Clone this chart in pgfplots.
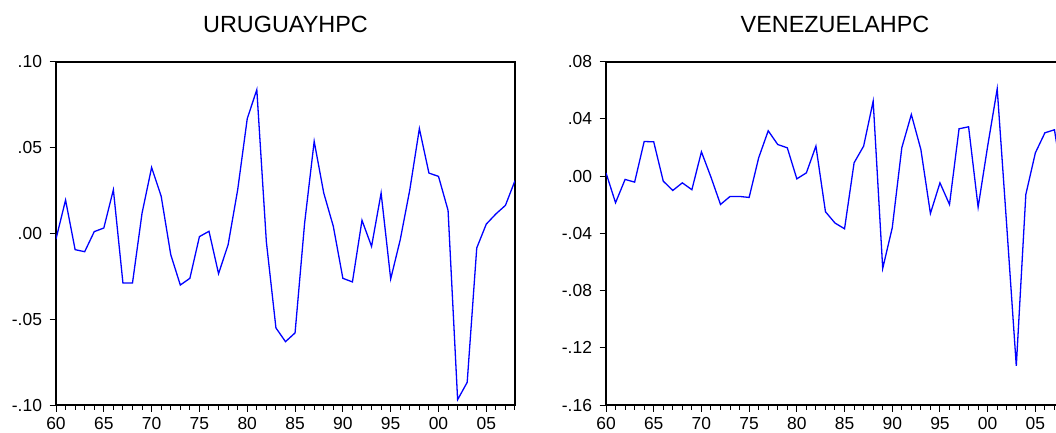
\documentclass[border=0pt]{standalone}
\usepackage{fontspec}
\setmainfont{Liberation Sans}
\usepackage{pgfplots}
\pgfplotsset{compat=1.18}
\begin{document}
\begin{tikzpicture}
\useasboundingbox (0bp,0bp) rectangle (1056bp,433bp);
\clip (0bp,0bp) rectangle (1056bp,433bp);
\pgfplotsset{
  eviews/.style={
    scale only axis, anchor=south west,
    height=343.3bp,
    xmin=1960, xmax=2008,
    xtick={1960,1965,...,2005},
    xticklabels={60,65,70,75,80,85,90,95,00,05},
    minor xtick={1960,...,2008},
    tick align=outside, xtick pos=left, ytick pos=left,
    major tick length=6.5bp, minor tick length=4.5bp,
    axis line style={line width=2bp},
    tick style={black, line width=1bp},
    ticklabel style={font=\fontsize{17.5}{20}\selectfont},
    xticklabel style={yshift=-2.5bp},
    yticklabel style={xshift=-4bp},
    title style={font=\fontsize{23.5}{28}\selectfont, at={(0.5,1)}, anchor=base, yshift=23bp},
  }
}
\begin{axis}[eviews, at={(56bp,28bp)}, width=459bp,
  title={URUGUAYHPC},
  ymin=-0.10, ymax=0.10,
  ytick={-0.10,-0.05,0,0.05,0.10},
  yticklabels={-.10,-.05,.00,.05,.10}]
\addplot[blue, line width=1.3bp] coordinates {
(1960,-0.0033) (1961,0.0194) (1962,-0.0095) (1963,-0.0107) (1964,0.0010)
(1965,0.0031) (1966,0.0254) (1967,-0.0289) (1968,-0.0289) (1969,0.0118)
(1970,0.0384) (1971,0.0216) (1972,-0.0124) (1973,-0.0301) (1974,-0.0262)
(1975,-0.0019) (1976,0.0012) (1977,-0.0235) (1978,-0.0066) (1979,0.0254)
(1980,0.0668) (1981,0.0837) (1982,-0.0050) (1983,-0.0551) (1984,-0.0631)
(1985,-0.0580) (1986,0.0060) (1987,0.0536) (1988,0.0235) (1989,0.0041)
(1990,-0.0262) (1991,-0.0283) (1992,0.0076) (1993,-0.0076) (1994,0.0235)
(1995,-0.0266) (1996,-0.0037) (1997,0.0254) (1998,0.0610) (1999,0.0351)
(2000,0.0332) (2001,0.0134) (2002,-0.0969) (2003,-0.0868) (2004,-0.0085)
(2005,0.0054) (2006,0.0113) (2007,0.0163) (2008,0.0307)
};
\end{axis}
\begin{axis}[eviews, at={(606bp,28bp)}, width=458bp,
  title={VENEZUELAHPC},
  ymin=-0.16, ymax=0.08,
  ytick={-0.16,-0.12,-0.08,-0.04,0,0.04,0.08},
  yticklabels={-.16,-.12,-.08,-.04,.00,.04,.08}]
\addplot[blue, line width=1.3bp] coordinates {
(1960,0.0023) (1961,-0.0186) (1962,-0.0023) (1963,-0.0042) (1964,0.0242)
(1965,0.0240) (1966,-0.0035) (1967,-0.0100) (1968,-0.0047) (1969,-0.0095)
(1970,0.0170) (1971,-0.0007) (1972,-0.0198) (1973,-0.0142) (1974,-0.0142)
(1975,-0.0149) (1976,0.0128) (1977,0.0317) (1978,0.0221) (1979,0.0198)
(1980,-0.0019) (1981,0.0023) (1982,0.0210) (1983,-0.0249) (1984,-0.0328)
(1985,-0.0368) (1986,0.0093) (1987,0.0210) (1988,0.0524) (1989,-0.0645)
(1990,-0.0361) (1991,0.0198) (1992,0.0431) (1993,0.0186) (1994,-0.0261)
(1995,-0.0047) (1996,-0.0198) (1997,0.0331) (1998,0.0345) (1999,-0.0217)
(2000,0.0210) (2001,0.0610) (2002,-0.0349) (2003,-0.1327) (2004,-0.0128)
(2005,0.0163) (2006,0.0303) (2007,0.0324) (2008,-0.0100)
};
\end{axis}
\end{tikzpicture}
\end{document}
